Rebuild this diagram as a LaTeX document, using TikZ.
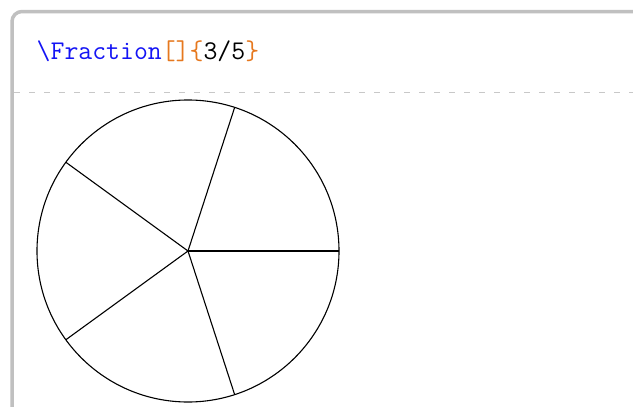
\documentclass[tikz,border=0pt]{standalone}
\usepackage{fontspec}
\usetikzlibrary{calc}
\definecolor{framegray}{RGB}{192,192,192}
\definecolor{dashgray}{RGB}{200,200,200}
\definecolor{kwblue}{RGB}{20,20,245}
\definecolor{brorange}{RGB}{230,120,30}
\tikzset{
  frameline/.style={draw=framegray,line width=3.5pt,rounded corners=10pt},
  sepline/.style={draw=dashgray,line width=1pt,dash pattern=on 6pt off 9pt},
  piece/.style={draw=black,line width=1.1pt},
  codetext/.style={anchor=base west,inner sep=0pt,font=\fontsize{27}{31}\selectfont\ttfamily}
}
\begin{document}
\begin{tikzpicture}[x=1pt,y=-1pt]
\useasboundingbox (0,0) rectangle (633,407);
\clip (0,0) rectangle (633,407);
\fill[white] (0,0) rectangle (633,407);
\draw[frameline] (12,430) -- (12,11.5) -- (642,11.5) -- (642,430);
\draw[sepline] (14,92) -- (633,92);
\node[codetext] (code) at (36.5,59.5) {\textcolor{kwblue}{\textbackslash Fraction}\textcolor{brorange}{[]\{}3/5\textcolor{brorange}{\}}};
\coordinate (O) at (188,251);
\draw[piece] (O) circle[radius=151pt];
\foreach \a in {0,72,144,216,288}{
  \coordinate (P\a) at ($(O)+(\a:151pt)$);
}
\foreach \a in {0,72,144,216,288}{
  \draw[piece] (O) -- (P\a);
}
\end{tikzpicture}
\end{document}
